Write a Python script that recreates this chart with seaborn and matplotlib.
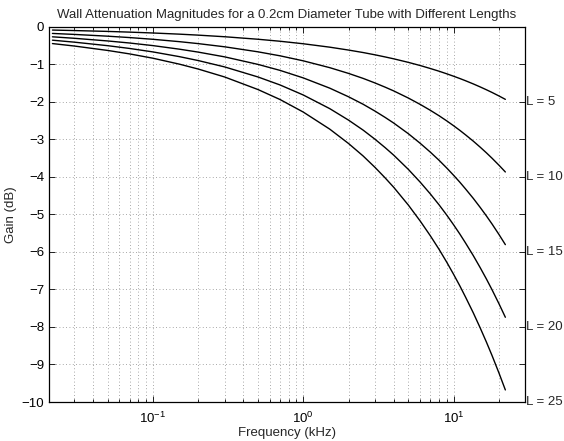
#Wall attenuation magnitudes for a 0.2 cm tube, several lengths
import pandas as pd
import numpy as np
import seaborn as sns
import matplotlib
matplotlib.use("Agg")
import matplotlib.pyplot as plt

#Datos
freq_khz = [0.0215, 0.03, 0.05, 0.07, 0.1, 0.15, 0.2, 0.3, 0.5, 0.7, 1, 1.5, 2, 2.5, 3, 3.5,
            4, 5, 6, 7, 8, 9, 10, 11, 12, 13.5, 15, 16.5, 18, 20, 22.05]
gain_L5 = [-0.090, -0.103, -0.126, -0.145, -0.168, -0.199, -0.225, -0.268, -0.335, -0.388,
           -0.455, -0.546, -0.623, -0.689, -0.750, -0.806, -0.857, -0.951, -1.036, -1.115,
           -1.187, -1.256, -1.321, -1.382, -1.441, -1.525, -1.605, -1.681, -1.753, -1.846,
           -1.936]
gain_L10 = [-0.180, -0.206, -0.253, -0.290, -0.336, -0.399, -0.451, -0.536, -0.670, -0.776,
            -0.910, -1.092, -1.245, -1.378, -1.500, -1.611, -1.713, -1.902, -2.073, -2.229,
            -2.374, -2.511, -2.641, -2.764, -2.883, -3.050, -3.210, -3.361, -3.506, -3.691,
            -3.871]
gain_L15 = [-0.270, -0.309, -0.380, -0.435, -0.504, -0.599, -0.677, -0.804, -1.005, -1.164,
            -1.365, -1.638, -1.868, -2.067, -2.250, -2.417, -2.570, -2.853, -3.110, -3.344,
            -3.561, -3.767, -3.962, -4.146, -4.325, -4.575, -4.815, -5.042, -5.259, -5.537,
            -5.807]
gain_L20 = [-0.360, -0.412, -0.506, -0.580, -0.672, -0.798, -0.902, -1.072, -1.340, -1.552,
            -1.820, -2.184, -2.490, -2.756, -3.000, -3.222, -3.426, -3.804, -4.146, -4.458,
            -4.748, -5.022, -5.282, -5.528, -5.766, -6.100, -6.420, -6.722, -7.012, -7.382,
            -7.742]
gain_L25 = [-0.450, -0.515, -0.633, -0.725, -0.840, -0.998, -1.128, -1.340, -1.675, -1.940,
            -2.275, -2.730, -3.113, -3.445, -3.750, -4.028, -4.283, -4.755, -5.183, -5.573,
            -5.935, -6.278, -6.603, -6.910, -7.208, -7.625, -8.025, -8.403, -8.765, -9.228,
            -9.678]
lengths = [5, 10, 15, 20, 25]
label_y = [-2, -4, -6, -8, -10]
labels = ["L = 5", "L = 10", "L = 15", "L = 20", "L = 25"]

series = [gain_L5, gain_L10, gain_L15, gain_L20, gain_L25]
df = pd.concat([pd.DataFrame({"freq": freq_khz, "gain": g, "L": L})
                for g, L in zip(series, lengths)], ignore_index=True)

sns.set_style("ticks")
plt.rcParams['font.family'] = ['Liberation Sans', 'DejaVu Sans']
plt.rcParams['mathtext.default'] = 'regular'
fs = 9.5

fig = plt.figure(figsize=(5.64, 4.41), dpi=100)
ax = fig.add_axes([0.0869, 0.0884, 0.8440, 0.8511])

sns.lineplot(data=df, x="freq", y="gain", hue="L", palette=["black"] * 5,
             legend=False, linewidth=1.0, ax=ax)

ax.set_xscale("log")
ax.set_xlim(0.0204, 29.8)
ax.set_ylim(-10, 0)
ax.set_yticks(range(-10, 1))

ax.grid(True, which="major", axis="both", linestyle=(0, (1, 3)), color="0.55", linewidth=0.6)
ax.grid(True, which="minor", axis="x", linestyle=(0, (1, 3)), color="0.55", linewidth=0.6)

ax.tick_params(which="both", direction="in", top=True, right=True, labelsize=fs,
               colors="black", width=0.6)
ax.tick_params(which="major", length=4)
ax.tick_params(which="minor", length=2)
ax.tick_params(axis="x", which="major", pad=6)
for s in ax.spines.values():
    s.set_linewidth(0.9)
    s.set_color("black")

ax.set_xlabel("Frequency (kHz)", fontsize=fs, labelpad=1)
ax.set_ylabel("Gain (dB)", fontsize=fs, labelpad=3)
ax.set_title("Wall Attenuation Magnitudes for a 0.2cm Diameter Tube with Different Lengths",
             fontsize=fs, pad=6)

#Etiquetas a la derecha
trans = matplotlib.transforms.blended_transform_factory(ax.transAxes, ax.transData)
for yv, txt in zip(label_y, labels):
    ax.text(1.003, yv, txt, transform=trans, fontsize=fs, va="center", ha="left",
            clip_on=False)

fig.savefig("out.png", dpi=100)
